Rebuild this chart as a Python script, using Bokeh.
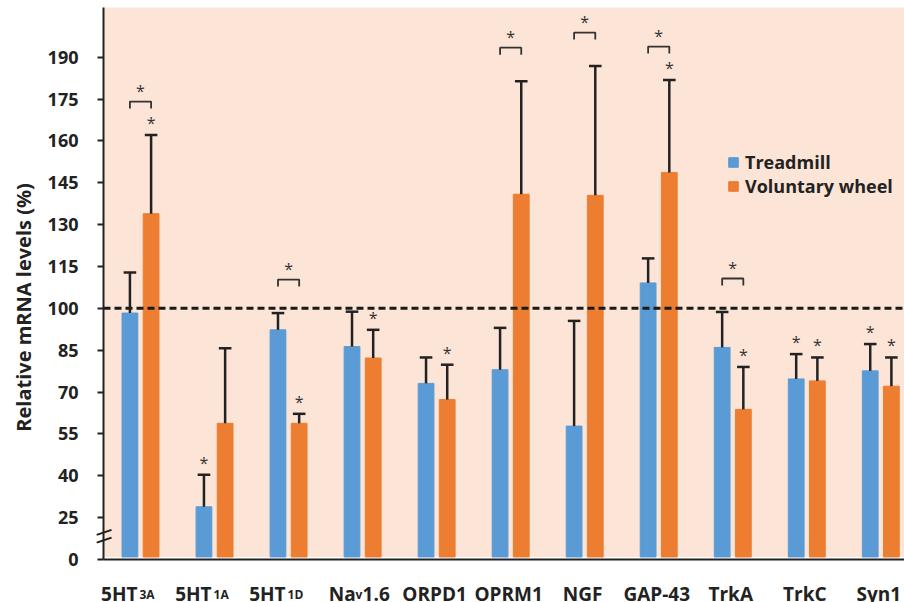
import numpy as np
from bokeh.plotting import figure
from bokeh.models import (Range1d, FixedTicker, Label, Legend, LegendItem, BoxAnnotation)
from bokeh.core.properties import value
from bokeh.embed import file_html
from bokeh.resources import INLINE

# ---------------- data ----------------
label_main = ["5HT", "5HT", "5HT", "Na", "ORPD1", "OPRM1", "NGF", "GAP-43", "TrkA", "TrkC", "Syn1"]
label_sub = ["3A", "1A", "1D", "v", "", "", "", "", "", "", ""]
label_tail = ["", "", "", "1.6", "", "", "", "", "", "", ""]

treadmill = [98.3, 28.9, 92.3, 86.3, 73.1, 78.0, 57.8, 109.1, 86.0, 74.7, 77.6]
treadmill_sem = [14.5, 11.5, 6.0, 12.5, 9.3, 15.0, 37.7, 8.8, 12.7, 8.9, 9.6]
wheel = [133.9, 58.8, 58.8, 82.2, 67.3, 140.9, 140.5, 148.7, 63.8, 74.0, 72.1]
wheel_sem = [28.2, 26.9, 3.4, 10.1, 12.5, 40.5, 46.3, 33.1, 15.2, 8.4, 10.3]

pair_sig = [1, 0, 1, 0, 0, 1, 1, 1, 1, 0, 0]
treadmill_sig = [0, 1, 0, 0, 0, 0, 0, 0, 0, 1, 1]
wheel_sig = [1, 0, 1, 1, 1, 0, 0, 1, 1, 1, 1]

ytick_values = [0, 25, 40, 55, 70, 85, 100, 115, 130, 145, 160, 175, 190]
reference_level = 100
series_names = ["Treadmill", "Voluntary wheel"]
y_title = "Relative mRNA levels (%)"

# ---------------- style ----------------
FONT = "Open Sans"
BLUE = "#5B9BD5"
ORANGE = "#ED7D31"
PINK = "#FCE4D6"
DARK = "#222222"
BREAK_LOW, BREAK_HIGH = 10.0, 25.0
Y_TOP = 207.8
X0, Y1 = -1.8913, 210.31       # data value at the canvas' left / top edge
PX_X, PX_Y = 74.03, 2.7907     # pixels per data unit


def ymap(v):
    """broken axis: 0 is drawn at BREAK_LOW, values >= 25 are linear"""
    return v if v >= BREAK_HIGH else BREAK_LOW + v * (BREAK_HIGH - BREAK_LOW) / BREAK_HIGH


n = len(label_main)
x = np.arange(n, dtype=float)
OFF, W = 0.143, 0.213
xb, xo = x - OFF, x + OFF
XL, XR = -0.5, 10.32
BASE = ymap(0) + 0.9

t_top = np.array(treadmill) + np.array(treadmill_sem)
w_top = np.array(wheel) + np.array(wheel_sem)

p = figure(width=904, height=602, x_range=Range1d(X0, XR), y_range=Range1d(-5.41, Y1),
           output_backend="svg", toolbar_location=None,
           min_border_left=0, min_border_right=0, min_border_top=0, min_border_bottom=0,
           background_fill_color="white", border_fill_color="white", outline_line_color=None)
p.xgrid.visible = False
p.ygrid.visible = False
p.xaxis.visible = False

# plot area background
p.add_layout(BoxAnnotation(left=XL, bottom=BASE, top=Y_TOP, fill_color=PINK, fill_alpha=1,
                           line_color=None, level="underlay"))

# bars
rb = p.vbar(x=xb, top=treadmill, bottom=BASE, width=W, fill_color=BLUE, line_color=BLUE)
ro = p.vbar(x=xo, top=wheel, bottom=BASE, width=W, fill_color=ORANGE, line_color=ORANGE)

# x axis line and reference line
p.segment(x0=[XL], y0=[ymap(0)], x1=[XR], y1=[ymap(0)], line_color=DARK, line_width=2)
p.segment(x0=[XL], y0=[reference_level], x1=[XR], y1=[reference_level], line_color="#1a1a1a",
          line_width=3, line_dash="7 4")

# error bars (upper only)
CAP = 0.085
for xs, top, tt in ((xb, treadmill, t_top), (xo, wheel, w_top)):
    p.segment(x0=xs, y0=top, x1=xs, y1=tt, line_color=DARK, line_width=2.5)
    p.segment(x0=xs - CAP, y0=tt, x1=xs + CAP, y1=tt, line_color=DARK, line_width=2.5)

# significance brackets and stars
bx, by, sx, sy = [], [], [], []
for i in range(n):
    if pair_sig[i]:
        h = max(t_top[i], w_top[i]) + 12
        bx.append([xb[i], xb[i], xo[i], xo[i]])
        by.append([h - 2.5, h, h, h - 2.5])
        sx.append(x[i])
        sy.append(h + 4.6)
    if treadmill_sig[i]:
        sx.append(xb[i])
        sy.append(t_top[i] + 5)
    if wheel_sig[i]:
        sx.append(xo[i])
        sy.append(w_top[i] + 5)
p.multi_line(xs=bx, ys=by, line_color="#333333", line_width=1.8)
p.text(x=sx, y=sy, text=["*"] * len(sx), text_font=value(FONT), text_font_size="16px",
       text_align="center", text_baseline="middle", text_color="#333333", y_offset=2)

# y axis (broken)
yax = p.yaxis[0]
yax.fixed_location = XL
yax.bounds = (ymap(0), Y_TOP)
yax.ticker = FixedTicker(ticks=[ymap(v) for v in ytick_values])
yax.major_label_overrides = {ymap(v): str(v) for v in ytick_values}
yax.minor_tick_line_color = None
yax.major_tick_in = 0
yax.major_tick_out = 6
yax.major_tick_line_width = 2
yax.major_tick_line_color = DARK
yax.axis_line_width = 2
yax.axis_line_color = DARK
yax.major_label_text_font = FONT
yax.major_label_text_font_style = "bold"
yax.major_label_text_font_size = "18px"
yax.major_label_text_color = DARK
yax.major_label_standoff = 19

# y axis title
p.add_layout(Label(x=X0 + 23 / PX_X, y=Y1 - 307 / PX_Y, text=y_title, angle=np.pi / 2,
                   text_font=FONT, text_font_style="bold", text_font_size="20px",
                   text_align="center", text_baseline="middle", text_color=DARK))

# axis break marks
for yy in (20.4, 17.6):
    p.add_layout(Label(x=XL, y=yy, text="\u2014", text_font=FONT, text_font_size="17px",
                       text_font_style="bold", text_align="center", text_baseline="middle",
                       angle=0.33, text_color=DARK))

# category labels (with subscripts)
YL = Y1 - 594 / PX_Y
MAIN_FS, SUB_FS = "19px", "12px"
for i in range(n):
    common = dict(y=YL, text_font=FONT, text_font_style="bold", text_baseline="alphabetic",
                  text_color=DARK)
    if label_sub[i] and label_tail[i]:
        p.add_layout(Label(x=x[i], x_offset=-7, text=label_main[i], text_font_size=MAIN_FS,
                           text_align="right", **common))
        p.add_layout(Label(x=x[i], x_offset=-7, text=label_sub[i], text_font_size=SUB_FS,
                           text_align="left", **common))
        p.add_layout(Label(x=x[i], x_offset=0, text=label_tail[i], text_font_size=MAIN_FS,
                           text_align="left", **common))
    elif label_sub[i]:
        p.add_layout(Label(x=x[i], x_offset=-3, text=label_main[i], text_font_size=MAIN_FS,
                           text_align="right", **common))
        p.add_layout(Label(x=x[i], x_offset=-1, text=label_sub[i], text_font_size=SUB_FS,
                           text_align="left", **common))
    else:
        p.add_layout(Label(x=x[i], x_offset=-2, text=label_main[i], text_font_size=MAIN_FS,
                           text_align="center", **common))

# legend
legend = Legend(items=[LegendItem(label=series_names[0], renderers=[rb]),
                       LegendItem(label=series_names[1], renderers=[ro])],
                location=(727, 404), orientation="vertical",
                glyph_width=12, glyph_height=12, label_height=20, label_standoff=6,
                spacing=0, padding=0, margin=0,
                label_text_font=FONT, label_text_font_style="bold", label_text_font_size="18px",
                label_text_color=DARK, border_line_color=None, background_fill_alpha=0)
p.add_layout(legend)

open("out.html", "w").write(file_html(p, INLINE))
